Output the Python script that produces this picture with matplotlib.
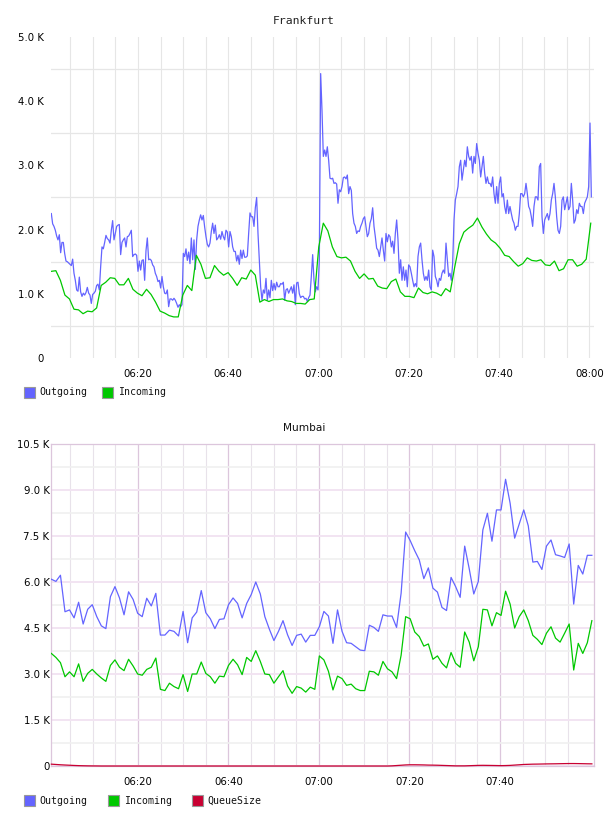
import matplotlib
matplotlib.use("Agg")
import matplotlib.pyplot as plt
import numpy as np
from matplotlib.patches import Rectangle
from matplotlib.ticker import FixedLocator, FuncFormatter

# minutes after 06:00 for first / last sample of each series
frankfurt_out_span = (0.80, 120.41)
frankfurt_in_span = (0.80, 120.28)
mumbai_span = (0.85, 120.33)

# Frankfurt, values in K
frankfurt_out = [
    2.25, 2.09, 2.05, 1.99, 1.90, 1.84, 1.92, 1.64, 1.80, 1.80, 1.63, 1.51,
    1.50, 1.48, 1.46, 1.44, 1.54, 1.32, 1.21, 1.06, 1.04, 1.26, 1.03, 0.96,
    1.01, 0.98, 1.02, 1.10, 1.01, 0.98, 0.85, 0.99, 1.01, 1.04, 1.13, 1.15,
    1.06, 1.42, 1.73, 1.70, 1.80, 1.91, 1.86, 1.84, 1.79, 1.99, 2.14, 1.84,
    1.94, 2.05, 2.07, 2.08, 1.61, 1.80, 1.84, 1.87, 1.73, 1.89, 1.90, 1.94,
    1.99, 1.58, 1.61, 1.62, 1.60, 1.35, 1.51, 1.37, 1.52, 1.53, 1.21, 1.67,
    1.87, 1.53, 1.54, 1.52, 1.45, 1.42, 1.32, 1.27, 1.19, 1.21, 1.09, 1.27,
    1.11, 1.01, 1.00, 1.06, 0.80, 0.92, 0.92, 0.90, 0.93, 0.90, 0.85, 0.79,
    0.83, 0.80, 0.83, 1.63, 1.58, 1.70, 1.52, 1.65, 1.47, 1.87, 1.53, 1.84,
    1.38, 1.84, 2.05, 2.15, 2.23, 2.15, 2.22, 2.04, 1.89, 1.77, 1.73, 1.79,
    1.97, 2.10, 1.94, 2.07, 1.84, 1.87, 1.92, 1.85, 1.97, 1.89, 1.84, 1.99,
    1.96, 1.73, 1.97, 1.89, 1.73, 1.66, 1.66, 1.51, 1.60, 1.46, 1.68, 1.55,
    1.68, 1.57, 1.57, 1.59, 1.94, 2.26, 2.20, 2.20, 2.05, 2.34, 2.50, 1.94,
    1.53, 1.11, 0.90, 1.06, 1.01, 1.24, 0.90, 1.06, 0.94, 1.21, 1.05, 1.16,
    1.06, 1.18, 1.11, 1.11, 1.16, 1.15, 1.18, 0.90, 1.06, 1.08, 1.01, 1.06,
    1.11, 1.01, 1.14, 0.83, 1.17, 1.18, 1.00, 0.94, 0.96, 0.96, 0.92, 0.93,
    0.88, 0.94, 0.98, 1.27, 1.61, 1.21, 1.03, 1.11, 1.06, 1.53, 4.43,
    3.86, 3.14, 3.24, 3.14, 3.29, 3.08, 2.80, 2.79, 2.80, 2.72, 2.73, 2.71,
    2.41, 2.62, 2.59, 2.67, 2.81, 2.82, 2.79, 2.85, 2.56, 2.67, 2.61, 2.25,
    2.10, 2.05, 1.94, 1.98, 1.97, 2.05, 2.10, 2.17, 2.20, 2.05, 1.89, 1.94,
    2.10, 2.17, 2.34, 2.05, 1.89, 1.71, 1.68, 1.58, 1.73, 1.87, 1.68, 1.51,
    1.94, 1.81, 1.92, 1.89, 1.73, 1.82, 1.63, 1.94, 2.15, 1.84, 1.32, 1.53,
    1.21, 1.42, 1.21, 1.37, 1.11, 1.45, 1.42, 1.32, 1.21, 1.11, 1.16, 1.11,
    1.58, 1.73, 1.79, 1.53, 1.32, 1.21, 1.27, 1.21, 1.37, 1.11, 1.06, 1.68,
    1.58, 1.27, 1.21, 1.11, 1.24, 1.21, 1.32, 1.37, 1.32, 1.79, 1.53, 1.27,
    1.32, 1.21, 1.47, 2.15, 2.46, 2.56, 2.67, 2.98, 3.08, 2.77, 2.93, 3.08,
    2.98, 3.29, 3.14, 3.08, 3.14, 2.88, 3.14, 3.03, 3.34, 3.19, 3.08, 2.82,
    2.98, 3.14, 2.88, 2.72, 2.82, 2.72, 2.72, 2.67, 2.82, 2.56, 2.41, 2.67,
    2.41, 2.72, 2.82, 2.51, 2.56, 2.36, 2.25, 2.46, 2.25, 2.36, 2.25, 2.15,
    2.10, 1.99, 2.05, 2.05, 2.25, 2.56, 2.56, 2.51, 2.56, 2.72, 2.56, 2.36,
    2.31, 2.20, 2.05, 2.36, 2.51, 2.51, 2.46, 2.98, 3.03, 2.20, 1.94, 2.15,
    2.20, 2.25, 2.15, 2.25, 2.46, 2.56, 2.72, 2.51, 2.20, 1.99, 1.94, 2.05,
    2.46, 2.51, 2.31, 2.41, 2.51, 2.31, 2.36, 2.72, 2.46, 2.10, 2.15, 2.31,
    2.25, 2.41, 2.36, 2.36, 2.25, 2.41, 2.46, 2.51, 2.67, 3.66, 2.51,
]

frankfurt_in = [
    1.35, 1.36, 1.21, 0.98, 0.92, 0.76, 0.75, 0.69, 0.73, 0.72,
    0.78, 1.13, 1.18, 1.25, 1.24, 1.14, 1.14, 1.24, 1.07, 1.01,
    0.97, 1.07, 0.99, 0.87, 0.73, 0.70, 0.66, 0.64, 0.64, 0.98,
    1.13, 1.05, 1.60, 1.46, 1.24, 1.25, 1.44, 1.35, 1.29, 1.33,
    1.24, 1.13, 1.25, 1.23, 1.37, 1.29, 0.87, 0.91, 0.88, 0.91,
    0.91, 0.92, 0.89, 0.88, 0.85, 0.85, 0.84, 0.91, 0.92, 1.73,
    2.10, 1.98, 1.73, 1.58, 1.56, 1.57, 1.51, 1.35, 1.24, 1.31,
    1.23, 1.24, 1.12, 1.09, 1.08, 1.19, 1.23, 1.03, 0.96, 0.96,
    0.94, 1.09, 1.02, 1.00, 1.03, 1.01, 0.97, 1.08, 1.03, 1.42,
    1.78, 1.96, 2.02, 2.07, 2.18, 2.04, 1.93, 1.84, 1.79, 1.71,
    1.60, 1.58, 1.50, 1.43, 1.47, 1.56, 1.52, 1.51, 1.53, 1.45,
    1.44, 1.51, 1.36, 1.39, 1.53, 1.53, 1.43, 1.46, 1.54, 2.10,
]

# Mumbai, raw values
mumbai_out = [
    6090, 6020, 6220, 5030, 5090, 4830, 5340, 4630, 5110, 5260,
    4870, 4570, 4480, 5520, 5850, 5480, 4930, 5680, 5430, 4980,
    4870, 5470, 5220, 5630, 4270, 4270, 4430, 4390, 4240, 5040,
    4020, 4830, 5020, 5720, 5000, 4800, 4480, 4780, 4800, 5260,
    5480, 5300, 4830, 5300, 5590, 6000, 5610, 4870, 4460, 4090,
    4390, 4740, 4280, 3930, 4260, 4300, 4040, 4260, 4260, 4540,
    5040, 4890, 4000, 5090, 4390, 4020, 4000, 3890, 3780, 3760,
    4590, 4520, 4390, 4930, 4890, 4890, 4520, 5630, 7630, 7350,
    7020, 6720, 6110, 6460, 5800, 5670, 5170, 5070, 6150, 5850,
    5500, 7170, 6430, 5610, 6020, 7700, 8240, 7330, 8350, 8350,
    9350, 8570, 7430, 7890, 8350, 7830, 6650, 6670, 6410, 7170,
    7370, 6890, 6850, 6800, 7240, 5280, 6540, 6260, 6870, 6870,
]

mumbai_in = [
    3670, 3540, 3370, 2910, 3070, 2910, 3330, 2760, 3020, 3150,
    3000, 2870, 2760, 3280, 3460, 3220, 3110, 3480, 3260, 3000,
    2960, 3150, 3220, 3520, 2500, 2460, 2700, 2590, 2520, 2980,
    2430, 3000, 3000, 3390, 3020, 2910, 2700, 2930, 2910, 3280,
    3480, 3300, 2980, 3540, 3410, 3760, 3410, 3000, 2980, 2700,
    2910, 3110, 2610, 2370, 2590, 2540, 2410, 2570, 2500, 3590,
    3460, 3090, 2480, 2930, 2850, 2630, 2670, 2520, 2460, 2460,
    3090, 3070, 2960, 3410, 3170, 3070, 2850, 3610, 4870, 4800,
    4370, 4220, 3910, 3980, 3480, 3590, 3350, 3200, 3700, 3350,
    3220, 4370, 4040, 3430, 3890, 5110, 5090, 4570, 5000, 4910,
    5700, 5280, 4500, 4870, 5090, 4740, 4260, 4130, 3960, 4330,
    4540, 4170, 4040, 4330, 4630, 3130, 4000, 3670, 4020, 4740,
]

mumbai_queue = [
    60, 50, 40, 32, 25, 18, 12, 8, 5, 3,
    2, 0, 0, 0, 0, 0, 0, 0, 0, 0,
    0, 0, 0, 0, 0, 0, 0, 0, 0, 0,
    0, 0, 0, 0, 0, 0, 0, 0, 0, 0,
    0, 0, 0, 0, 0, 0, 0, 0, 0, 0,
    0, 0, 0, 0, 0, 0, 0, 0, 0, 0,
    0, 0, 0, 0, 0, 0, 0, 0, 0, 0,
    0, 0, 0, 0, 0, 5, 15, 25, 35, 40,
    40, 38, 35, 30, 28, 25, 20, 15, 10, 5,
    5, 5, 10, 15, 20, 22, 20, 18, 15, 12,
    15, 20, 30, 40, 50, 55, 60, 62, 65, 68,
    70, 72, 75, 78, 80, 80, 78, 75, 72, 70,
]

BLUE = "#6464ff"
GREEN = "#00c800"
RED = "#c80032"

W, H = 608, 816
fig = plt.figure(figsize=(W / 100, H / 100), dpi=100)
fig.patch.set_facecolor("white")


def times(span, n):
    return np.linspace(span[0], span[1], n)


def hhmm(v, pos):
    m = int(round(v))
    return "%02d:%02d" % (6 + m // 60, m % 60)


def kfmt(v, pos):
    if v == 0:
        return "0"
    return "%.1f K" % (v / 1000.0)


tick_font = dict(family="DejaVu Sans", size=7.3)
mono = "DejaVu Sans Mono"

# ---- Frankfurt ----
ax1 = fig.add_axes([51 / W, 1 - 358 / H, 543 / W, 321 / H])
ax1.plot(times(frankfurt_out_span, len(frankfurt_out)), np.array(frankfurt_out) * 1000,
         color=BLUE, lw=0.9, zorder=3)
ax1.plot(times(frankfurt_in_span, len(frankfurt_in)), np.array(frankfurt_in) * 1000,
         color=GREEN, lw=0.9, zorder=4)
ax1.set_xlim(0.73, 121.0)
ax1.set_ylim(0, 5000)
ax1.xaxis.set_major_locator(FixedLocator([20, 40, 60, 80, 100, 120]))
ax1.xaxis.set_minor_locator(FixedLocator([m for m in range(5, 121, 5) if m % 20]))
ax1.yaxis.set_major_locator(FixedLocator([0, 1000, 2000, 3000, 4000, 5000]))
ax1.yaxis.set_minor_locator(FixedLocator([500, 1500, 2500, 3500, 4500]))
ax1.xaxis.set_major_formatter(FuncFormatter(hhmm))
ax1.yaxis.set_major_formatter(FuncFormatter(kfmt))
ax1.grid(which="both", axis="x", color="#e6e6e6", lw=0.8)
ax1.grid(which="minor", axis="y", color="#e6e6e6", lw=0.9)
ax1.set_axisbelow(True)
for s in ax1.spines.values():
    s.set_visible(False)
ax1.tick_params(which="both", length=0)
ax1.tick_params(axis="y", pad=5)
ax1.tick_params(axis="x", pad=8)
for lab in ax1.get_xticklabels() + ax1.get_yticklabels():
    lab.set_fontfamily(tick_font["family"])
    lab.set_fontsize(tick_font["size"])
fig.text(304 / W, 1 - 20.5 / H, "Frankfurt", ha="center", va="center",
         family=mono, fontsize=8.2, color="#222222")

# ---- Mumbai ----
MAJ = "#dcc6dc"
ax2 = fig.add_axes([51 / W, 1 - 766 / H, 543 / W, 322 / H])
tm = times(mumbai_span, len(mumbai_out))
ax2.plot(tm, mumbai_out, color=BLUE, lw=0.9, zorder=3)
ax2.plot(tm, mumbai_in, color=GREEN, lw=0.9, zorder=4)
ax2.plot(tm, mumbai_queue, color=RED, lw=0.9, zorder=5, clip_on=False)
ax2.set_xlim(0.77, 120.8)
ax2.set_ylim(0, 10500)
ax2.xaxis.set_major_locator(FixedLocator([20, 40, 60, 80, 100]))
ax2.xaxis.set_minor_locator(FixedLocator([m for m in range(5, 120, 5) if m % 20]))
ax2.yaxis.set_major_locator(FixedLocator([0, 1500, 3000, 4500, 6000, 7500, 9000, 10500]))
ax2.yaxis.set_minor_locator(FixedLocator([750, 2250, 3750, 5250, 6750, 8250, 9750]))
ax2.xaxis.set_major_formatter(FuncFormatter(hhmm))
ax2.yaxis.set_major_formatter(FuncFormatter(kfmt))
ax2.grid(which="major", axis="x", color=MAJ, lw=0.9)
ax2.grid(which="minor", axis="x", color="#e8e2ea", lw=0.8)
ax2.grid(which="major", axis="y", color="#f2e4f2", lw=1.4)
ax2.grid(which="minor", axis="y", color="#f0f0f0", lw=1.2)
ax2.set_axisbelow(True)
for s in ax2.spines.values():
    s.set_color(MAJ)
    s.set_linewidth(0.9)
ax2.tick_params(which="both", length=0)
ax2.tick_params(axis="y", pad=1)
ax2.tick_params(axis="x", pad=8)
for lab in ax2.get_xticklabels() + ax2.get_yticklabels():
    lab.set_fontfamily(tick_font["family"])
    lab.set_fontsize(tick_font["size"])
fig.text(304 / W, 1 - 428 / H, "Mumbai", ha="center", va="center",
         family="DejaVu Sans", fontsize=7.6, color="#111111")


# ---- legends ----
def legend_item(x_box, x_text, y_mid, color, label):
    fig.patches.append(Rectangle((x_box / W, 1 - (y_mid + 5.5) / H), 11 / W, 11 / H,
                                 transform=fig.transFigure, facecolor=color,
                                 edgecolor="#999999", lw=0.8))
    fig.text(x_text / W, 1 - y_mid / H, label, ha="left", va="center",
             family=mono, fontsize=7.1, color="#111111")


legend_item(24, 39, 392.5, BLUE, "Outgoing")
legend_item(102, 118, 392.5, GREEN, "Incoming")
legend_item(24, 39, 800.5, BLUE, "Outgoing")
legend_item(108, 124, 800.5, GREEN, "Incoming")
legend_item(192, 207, 800.5, RED, "QueueSize")

fig.savefig("out.png", dpi=100)
